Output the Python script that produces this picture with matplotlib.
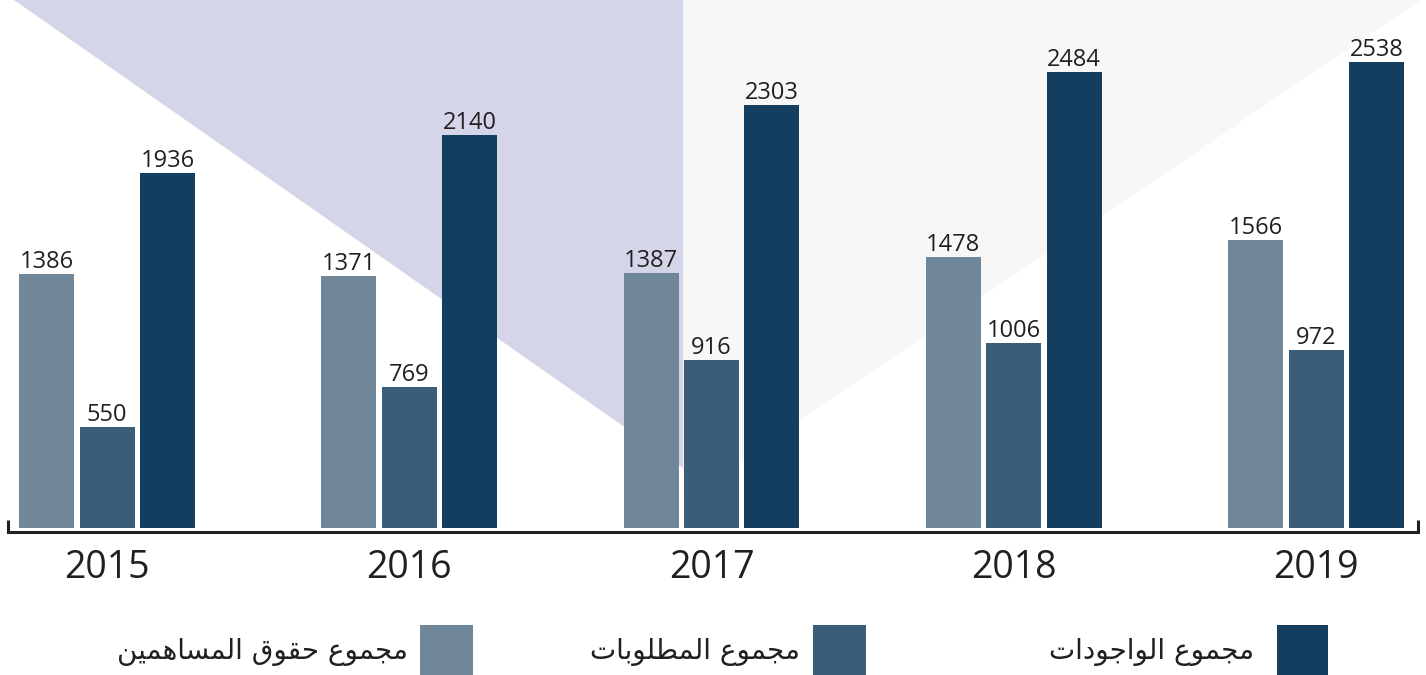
import matplotlib
matplotlib.use('Agg')
import matplotlib.pyplot as plt
from matplotlib.patches import Polygon, Rectangle
from matplotlib.lines import Line2D

# ---------------- data ----------------
years = ['2015', '2016', '2017', '2018', '2019']
equity = [1386, 1371, 1387, 1478, 1566]
liabilities = [550, 769, 916, 1006, 972]
assets = [1936, 2140, 2303, 2484, 2538]
series_names = ['مجموع حقوق المساهمين', 'مجموع المطلوبات', 'مجموع الواجودات']
colors = ['#708799', '#3a5e78', '#133e5f']
text_color = '#231f20'

# ------------- simple Arabic shaping (presentation forms + RTL order) -------------
FORMS = {
    'ا': (0xFE8D, 0xFE8E, None, None),
    'د': (0xFEA9, 0xFEAA, None, None),
    'و': (0xFEED, 0xFEEE, None, None),
    'ب': (0xFE8F, 0xFE90, 0xFE91, 0xFE92),
    'ت': (0xFE95, 0xFE96, 0xFE97, 0xFE98),
    'ج': (0xFE9D, 0xFE9E, 0xFE9F, 0xFEA0),
    'ح': (0xFEA1, 0xFEA2, 0xFEA3, 0xFEA4),
    'س': (0xFEB1, 0xFEB2, 0xFEB3, 0xFEB4),
    'ط': (0xFEC1, 0xFEC2, 0xFEC3, 0xFEC4),
    'ع': (0xFEC9, 0xFECA, 0xFECB, 0xFECC),
    'ق': (0xFED5, 0xFED6, 0xFED7, 0xFED8),
    'ل': (0xFEDD, 0xFEDE, 0xFEDF, 0xFEE0),
    'م': (0xFEE1, 0xFEE2, 0xFEE3, 0xFEE4),
    'ن': (0xFEE5, 0xFEE6, 0xFEE7, 0xFEE8),
    'ه': (0xFEE9, 0xFEEA, 0xFEEB, 0xFEEC),
    'ي': (0xFEF1, 0xFEF2, 0xFEF3, 0xFEF4),
}


def shape_ar(text):
    chars = list(text)
    out = []
    for i, c in enumerate(chars):
        if c not in FORMS:
            out.append(c)
            continue
        iso, fin, ini, med = FORMS[c]
        prev = chars[i - 1] if i > 0 else None
        nxt = chars[i + 1] if i + 1 < len(chars) else None
        jp = prev in FORMS and FORMS[prev][2] is not None
        jn = ini is not None and nxt in FORMS
        if jp and jn:
            out.append(chr(med))
        elif jp:
            out.append(chr(fin))
        elif jn:
            out.append(chr(ini))
        else:
            out.append(chr(iso))
    return ''.join(reversed(out))


# ---------------- figure ----------------
W, H = 1426, 675
fig = plt.figure(figsize=(W / 100, H / 100), dpi=100)
fig.patch.set_facecolor('white')


def fx(px):
    return px / W


def fy(py):
    return 1 - py / H


# background decoration (behind the axes)
fig.patches.append(Polygon([(fx(683), fy(0)), (fx(1421), fy(0)), (fx(683), fy(499))],
                           closed=True, transform=fig.transFigure, facecolor='#f7f7f8',
                           edgecolor='none', zorder=-10))
fig.patches.append(Polygon([(fx(14), fy(0)), (fx(683), fy(0)), (fx(683), fy(468))],
                           closed=True, transform=fig.transFigure, facecolor='#d4d5e8',
                           edgecolor='none', zorder=-9))

ax = fig.add_axes([fx(8), fy(528), (1418 - 8) / W, 528 / H])
ax.set_zorder(1)
ax.patch.set_alpha(0)

group_step_px = 302.25
x0_px = 107
ax.set_xlim((8 - x0_px) / group_step_px, (1418 - x0_px) / group_step_px)
ax.set_ylim(0, 528 / 0.1836)

step = 60.5 / group_step_px
width = 55 / group_step_px
xs = list(range(len(years)))
all_series = [equity, liabilities, assets]
for k, (vals, col) in enumerate(zip(all_series, colors)):
    pos = [x + (k - 1) * step for x in xs]
    bars = ax.bar(pos, vals, width=width, color=col, zorder=3)
    ax.bar_label(bars, padding=0, fontsize=17, color=text_color, family='Open Sans')

for s in ax.spines.values():
    s.set_visible(False)
ax.set_yticks([])
ax.set_xticks(xs, years)
ax.tick_params(axis='x', length=0, pad=15, labelsize=27, labelcolor=text_color)
for lab in ax.get_xticklabels():
    lab.set_family('Open Sans')

# bottom bracket
fig.add_artist(Line2D([fx(8), fx(8), fx(1418), fx(1418)],
                      [fy(520), fy(532), fy(532), fy(520)],
                      transform=fig.transFigure, color=text_color, lw=2.2,
                      solid_joinstyle='miter', solid_capstyle='butt'))

# legend
legend_boxes = [(420, 473), (813, 866), (1277, 1328)]
legend_text_right = [408, 800, 1254]
for (l, r), tr, name, col in zip(legend_boxes, legend_text_right, series_names, colors):
    fig.patches.append(Rectangle((fx(l), fy(675)), (r - l) / W, 50 / H,
                                 transform=fig.transFigure, facecolor=col, edgecolor='none'))
    fig.text(fx(tr), fy(652), shape_ar(name), ha='right', va='center', fontsize=20,
             color=text_color, family='DejaVu Sans')

fig.savefig('out.png', dpi=100, facecolor='white')
